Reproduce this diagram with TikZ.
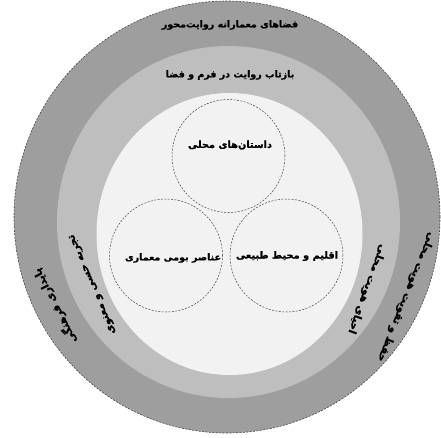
\documentclass[tikz,border=0pt]{standalone}
\usepackage{fontspec}
\newfontfamily\arabicfont[Script=Arabic, BoldFeatures={FakeBold=0.8}]{DejaVu Sans}
\TeXXeTstate=1
\definecolor{outerg}{RGB}{158,158,158}
\definecolor{midg}{RGB}{190,190,190}
\definecolor{innerg}{RGB}{242,242,242}
\definecolor{lineg}{RGB}{70,70,70}
\begin{document}
\begin{tikzpicture}[x=1pt,y=-1pt,
  lbl/.style={font=\arabicfont\bfseries\fontsize{9.5}{11}\selectfont, inner sep=0pt, text=black},
  arclbl/.style={font=\arabicfont\bfseries\fontsize{10.5}{12}\selectfont, inner sep=0pt, text=black},
  smallc/.style={circle, draw=lineg, dash pattern=on 2pt off 1.4pt, line width=0.5pt, minimum size=113pt, inner sep=0pt}]
\useasboundingbox (0,0) rectangle (441,437);
\fill[white] (0,0) rectangle (441,437);
\filldraw[fill=outerg, draw=lineg, line width=0.6pt, dash pattern=on 2pt off 1.4pt] (227,217) ellipse [x radius=213pt, y radius=216pt];
\fill[midg] (228.5,222) ellipse [x radius=171.5pt, y radius=176pt];
\fill[innerg] (229.5,234) ellipse [x radius=133pt, y radius=141pt];
% small dashed circles
\node[smallc] (c1) at (228.5,156) {};
\node[smallc] (c2) at (166,255.5) {};
\node[smallc] (c3) at (286.5,255.5) {};
% texts
\node[lbl] (t0) at (230,25) {\beginR فضاهای معمارانه روایت‌محور\endR};
\node[lbl] (t1) at (230,75) {\beginR بازتاب روایت در فرم و فضا\endR};
\node[lbl, font=\arabicfont\bfseries\fontsize{9.8}{11}\selectfont] (t2) at (230,145) {\beginR داستان‌های محلی\endR};
\node[lbl] (t3) at (173,258) {\beginR عناصر بومی معماری\endR};
\node[lbl, font=\arabicfont\bfseries\fontsize{9.8}{11}\selectfont] (t4) at (287,256) {\beginR اقلیم و محیط طبیعی\endR};
% arc texts
\node[arclbl, rotate=117] (a1) at (55,306) {\beginR پایداری فرهنگی\endR};
\node[arclbl, rotate=113] (a2) at (93,284) {\beginR تجربه حسی و معنوی\endR};
\node[arclbl, rotate=-110] (a3) at (367,289) {\beginR احیای هویت محلی\endR};
\node[arclbl, rotate=-112] (a4) at (406,297) {\beginR حفظ و تقویت هویت محلی\endR};
\end{tikzpicture}
\end{document}
